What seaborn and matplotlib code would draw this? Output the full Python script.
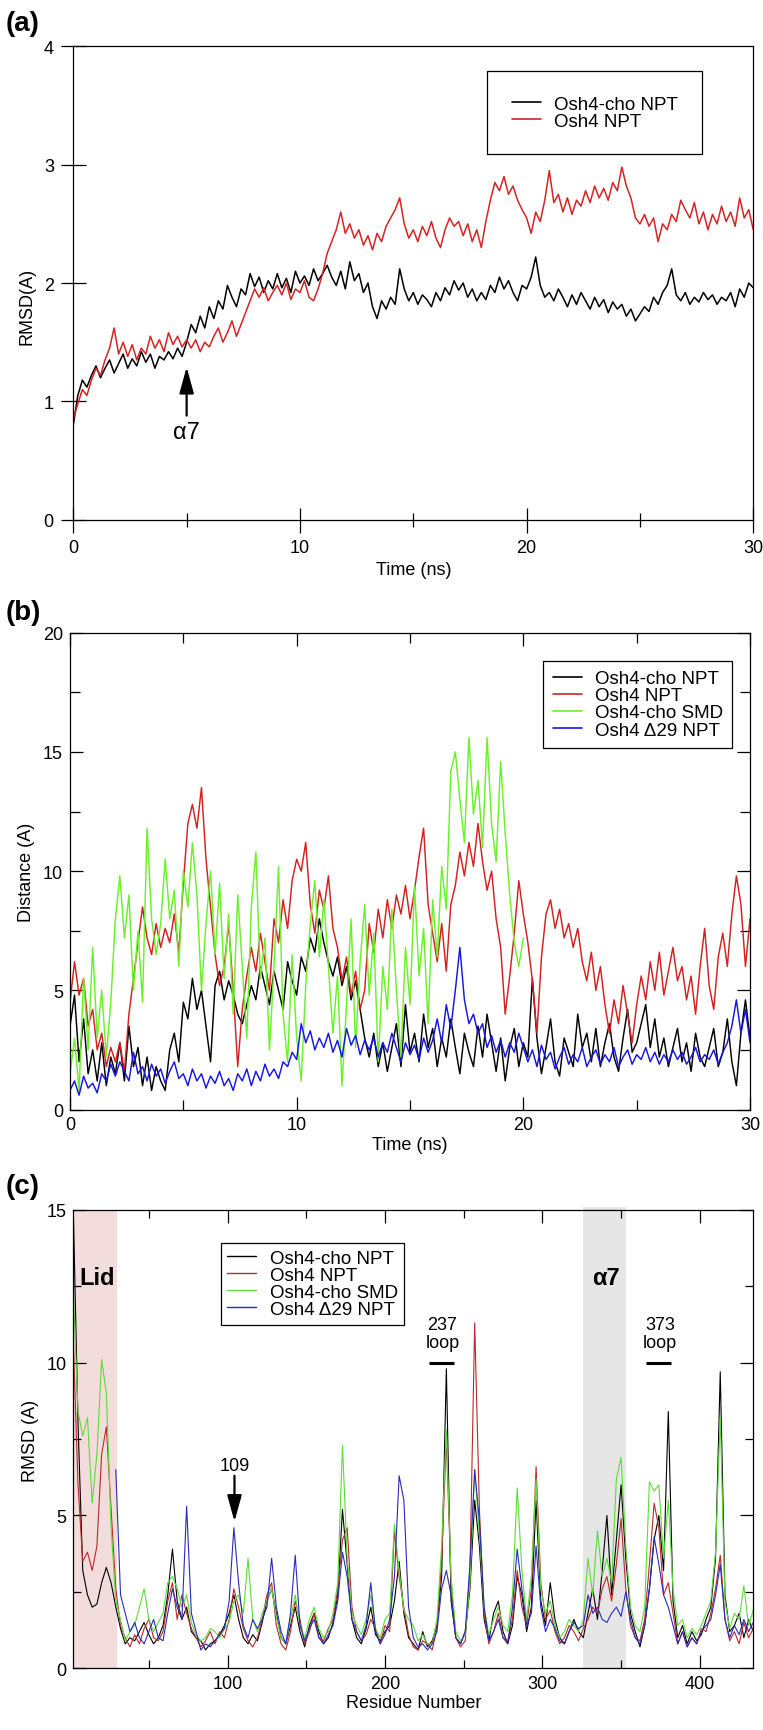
import numpy as np
import pandas as pd
import matplotlib
matplotlib.use("Agg")
import matplotlib.pyplot as plt
import seaborn as sns
from matplotlib.lines import Line2D
from matplotlib.ticker import MultipleLocator, FixedLocator
from matplotlib.patches import ArrowStyle

sns.set_style("ticks")
plt.rcParams['font.family'] = ['Liberation Sans', 'DejaVu Sans']
plt.rcParams.update({
    'axes.edgecolor': 'black', 'xtick.color': 'black', 'ytick.color': 'black',
    'text.color': 'black', 'axes.labelcolor': 'black', 'axes.linewidth': 0.9,
    'xtick.major.width': 0.9, 'ytick.major.width': 0.9,
    'xtick.minor.width': 0.9, 'ytick.minor.width': 0.9,
})

# ---------------- data ----------------
series_names = ["Osh4-cho NPT", "Osh4 NPT", "Osh4-cho SMD", "Osh4 \u039429 NPT"]

# Panel (a): backbone RMSD vs time (ns), sampled every 0.2 ns
time_a = np.round(np.arange(0, 30.0001, 0.2), 1)
rmsd_a_cho_npt = [
    0.80, 1.05, 1.18, 1.12, 1.22, 1.30,
    1.20, 1.28, 1.35, 1.24, 1.32,
    1.40, 1.28, 1.36, 1.30, 1.42,
    1.33, 1.40, 1.28, 1.38, 1.35,
    1.42, 1.36, 1.45, 1.38, 1.50,
    1.65, 1.58, 1.72, 1.62, 1.80,
    1.70, 1.85, 1.78, 1.98, 1.88,
    1.80, 1.95, 1.90, 2.08, 1.97,
    2.05, 1.92, 2.02, 1.95, 2.08,
    1.96, 2.04, 1.92, 2.10, 2.00,
    2.06, 1.98, 2.12, 2.02, 2.08,
    2.15, 2.05, 1.98, 2.10, 1.95,
    2.18, 2.02, 2.08, 1.92, 2.00,
    1.80, 1.70, 1.85, 1.78, 1.88,
    1.82, 2.12, 1.95, 1.85, 1.92,
    1.82, 1.90, 1.86, 1.80, 1.92,
    1.85, 1.96, 1.90, 2.02, 1.94,
    2.00, 1.88, 1.95, 1.85, 1.92,
    1.86, 1.98, 1.92, 2.05, 1.95,
    2.02, 1.92, 1.85, 1.98, 1.95,
    2.05, 2.22, 1.98, 1.88, 1.92,
    1.85, 1.95, 1.88, 1.80, 1.90,
    1.82, 1.92, 1.85, 1.78, 1.88,
    1.80, 1.86, 1.75, 1.84, 1.78,
    1.82, 1.72, 1.78, 1.68, 1.74,
    1.80, 1.76, 1.88, 1.82, 1.92,
    1.98, 2.12, 1.90, 1.85, 1.92,
    1.82, 1.88, 1.84, 1.92, 1.86,
    1.90, 1.82, 1.88, 1.85, 1.92,
    1.80, 1.95, 1.88, 2.00, 1.96,
]
rmsd_a_npt = [
    0.85, 0.98, 1.10, 1.05, 1.18, 1.28,
    1.22, 1.35, 1.45, 1.62, 1.40,
    1.50, 1.38, 1.48, 1.35, 1.45,
    1.40, 1.55, 1.45, 1.52, 1.42,
    1.58, 1.48, 1.55, 1.46, 1.52,
    1.45, 1.52, 1.42, 1.50, 1.46,
    1.55, 1.62, 1.50, 1.58, 1.68,
    1.55, 1.65, 1.75, 1.85, 1.95,
    1.88, 1.96, 1.85, 1.92, 1.98,
    1.90, 2.00, 1.86, 1.95, 1.92,
    2.02, 1.88, 1.85, 1.95, 2.08,
    2.25, 2.35, 2.45, 2.60, 2.42,
    2.50, 2.38, 2.45, 2.32, 2.40,
    2.28, 2.42, 2.35, 2.48, 2.55,
    2.62, 2.72, 2.50, 2.38, 2.45,
    2.35, 2.48, 2.40, 2.52, 2.38,
    2.30, 2.45, 2.55, 2.48, 2.52,
    2.40, 2.50, 2.35, 2.45, 2.30,
    2.52, 2.70, 2.85, 2.78, 2.90,
    2.75, 2.82, 2.70, 2.62, 2.55,
    2.42, 2.60, 2.52, 2.70, 2.95,
    2.68, 2.75, 2.60, 2.72, 2.58,
    2.70, 2.65, 2.78, 2.68, 2.82,
    2.72, 2.80, 2.70, 2.85, 2.78,
    2.98, 2.82, 2.72, 2.55, 2.50,
    2.58, 2.48, 2.55, 2.35, 2.50,
    2.45, 2.58, 2.52, 2.70, 2.62,
    2.55, 2.68, 2.50, 2.60, 2.45,
    2.58, 2.50, 2.65, 2.52, 2.60,
    2.48, 2.72, 2.55, 2.62, 2.45,
]

# Panel (b): distance vs time (ns), sampled every 0.2 ns
time_b = np.round(np.arange(0, 30.0001, 0.2), 1)
dist_b_cho_npt = [
    3.5, 4.8, 2.0, 3.8, 1.5, 2.5,
    1.2, 2.8, 1.0, 2.2, 1.5,
    2.8, 1.2, 3.5, 1.8, 2.6,
    1.0, 2.2, 0.8, 1.8, 1.2,
    0.8, 2.5, 3.2, 2.0, 4.5,
    3.8, 5.5, 4.2, 5.0, 3.5,
    2.0, 5.2, 5.8, 4.6, 5.4,
    4.8, 4.0, 3.6, 4.4, 5.2,
    4.6, 6.0, 5.2, 4.4, 5.8,
    5.0, 4.2, 6.2, 5.4, 4.8,
    6.4, 5.8, 7.2, 6.6, 8.0,
    7.0, 6.2, 5.6, 6.4, 5.2,
    6.0, 4.6, 5.4, 4.2, 3.0,
    2.2, 3.2, 1.8, 2.8, 1.6,
    2.6, 3.6, 1.8, 4.4, 2.4,
    3.2, 2.0, 4.0, 2.6, 3.4,
    1.8, 3.0, 2.2, 3.8, 2.6,
    1.5, 3.2, 2.4, 1.8, 3.5,
    2.2, 4.0, 2.8, 1.6, 3.0,
    1.2, 2.6, 3.4, 1.8, 2.8,
    2.2, 5.5, 3.0, 1.5, 2.6,
    3.8, 2.0, 1.4, 3.0, 2.4,
    1.8, 4.0, 2.6, 3.2, 2.0,
    3.4, 1.8, 2.8, 3.6, 2.2,
    1.6, 3.0, 4.2, 2.4, 2.8,
    3.6, 4.4, 2.6, 3.8, 2.2,
    3.0, 1.8, 2.6, 3.4, 2.0,
    2.8, 1.6, 3.2, 2.2, 1.8,
    2.6, 3.4, 1.8, 2.4, 3.8,
    2.0, 1.0, 3.2, 4.6, 3.0,
]
dist_b_npt = [
    4.5, 6.2, 4.8, 5.5, 3.5, 4.2,
    2.5, 3.2, 1.8, 2.6, 2.0,
    2.8, 1.6, 4.0, 5.5, 7.0,
    8.5, 7.2, 6.5, 7.8, 6.8,
    7.6, 7.0, 8.2, 6.6, 9.5,
    12.0, 12.8, 11.8, 13.5, 10.5,
    8.5, 6.5, 5.2, 6.0, 7.8,
    5.0, 1.8, 4.2, 5.6, 6.8,
    5.8, 7.4, 6.2, 5.0, 8.0,
    7.0, 8.8, 7.6, 9.6, 10.5,
    10.0, 11.2, 8.6, 7.4, 9.2,
    8.4, 9.8, 7.6, 6.8, 5.4,
    6.4, 4.8, 5.8, 4.2, 5.0,
    7.8, 6.6, 8.4, 7.2, 8.8,
    7.6, 9.0, 8.2, 9.4, 8.0,
    9.2, 10.6, 11.8, 8.6, 7.4,
    6.2, 7.8, 5.8, 8.6, 9.4,
    10.8, 9.8, 11.2, 10.2, 12.0,
    10.4, 9.2, 10.0, 8.0, 6.8,
    4.0, 5.6, 7.4, 9.6, 8.2,
    7.0, 5.4, 3.2, 6.4, 8.2,
    8.8, 7.6, 8.4, 7.2, 7.8,
    6.8, 7.6, 6.2, 5.4, 6.6,
    5.0, 6.0, 4.4, 3.2, 4.6,
    3.6, 5.2, 4.0, 2.8, 4.4,
    5.6, 4.6, 6.2, 5.0, 6.6,
    4.8, 5.8, 6.8, 5.4, 6.0,
    4.6, 5.6, 4.0, 6.0, 7.6,
    5.2, 4.2, 6.4, 7.4, 6.0,
    8.2, 9.8, 8.6, 6.0, 8.0,
]
# SMD run covers 0-20 ns only
dist_b_cho_smd = [
    1.5, 3.0, 0.8, 5.5, 2.5, 6.8,
    3.0, 5.0, 2.2, 4.5, 8.0,
    9.8, 7.2, 9.0, 5.0, 7.5,
    4.5, 11.8, 8.0, 6.5, 7.8,
    10.5, 8.0, 9.2, 6.0, 10.0,
    8.5, 11.2, 9.0, 5.0, 7.8,
    10.0, 6.5, 9.5, 5.5, 8.2,
    4.0, 9.0, 6.0, 3.0, 8.5,
    10.8, 5.5, 7.2, 2.5, 6.0,
    10.2, 4.0, 2.0, 6.5, 3.0,
    1.2, 5.2, 7.8, 9.6, 6.4,
    8.8, 6.0, 3.2, 5.6, 1.0,
    4.4, 8.0, 2.6, 6.2, 8.6,
    4.8, 7.4, 2.0, 6.0, 4.2,
    8.4, 5.0, 2.2, 6.8, 4.4,
    9.4, 5.6, 7.6, 3.6, 8.8,
    6.4, 10.2, 8.4, 14.2, 15.0,
    13.0, 11.2, 15.6, 12.4, 13.8,
    11.0, 15.6, 12.0, 10.4, 14.6,
    11.6, 9.0, 7.0, 6.0, 7.2,
]
dist_b_d29_npt = [
    0.8, 1.2, 0.6, 1.4, 0.9, 1.1,
    0.7, 1.5, 1.2, 1.9, 1.4,
    2.0, 1.6, 1.2, 2.4, 1.5,
    1.8, 1.2, 1.9, 1.4, 1.7,
    1.1, 1.6, 2.0, 1.3, 1.5,
    1.0, 1.7, 1.2, 1.5, 0.9,
    1.4, 1.1, 1.6, 1.0, 1.3,
    0.8, 1.5, 1.2, 1.7, 1.0,
    1.6, 1.2, 1.9, 1.4, 1.7,
    1.3, 2.0, 1.8, 2.4, 2.1,
    3.6, 2.8, 3.3, 2.5, 3.0,
    2.6, 3.2, 2.4, 2.9, 2.2,
    3.4, 2.7, 3.1, 2.3, 2.9,
    2.5, 3.0, 2.2, 2.8, 2.4,
    3.2, 2.6, 2.0, 2.8, 2.3,
    2.7, 2.1, 3.0, 2.4, 2.9,
    3.8, 2.8, 4.4, 3.4, 5.0,
    6.8, 4.6, 3.6, 4.0, 3.2,
    3.6, 2.6, 3.1, 2.4, 2.9,
    2.2, 2.8, 2.4, 3.2, 2.6,
    2.0, 2.5, 1.8, 2.7, 2.1,
    2.4, 1.7, 2.2, 2.6, 1.9,
    2.3, 2.0, 2.6, 1.8, 2.2,
    2.5, 1.9, 2.3, 2.0, 2.6,
    1.8, 2.2, 2.5, 1.9, 2.3,
    2.1, 2.6, 2.0, 2.4, 1.9,
    2.3, 2.0, 2.5, 2.1, 2.4,
    1.9, 2.2, 2.6, 2.0, 2.3,
    2.1, 2.5, 1.9, 2.4, 2.8,
    3.5, 4.6, 3.2, 4.2, 2.8,
]

# Panel (c): per-residue RMSD, sampled every 3rd residue (2, 5, ..., 434)
residue_c = np.arange(2, 435, 3)
rmsd_c_cho_npt = [
    15.0, 8.0, 3.2, 2.4, 2.0, 2.1, 2.8, 3.3, 2.8, 2.0,
    1.3, 0.8, 1.0, 0.9, 1.2, 1.5, 1.1, 0.8, 1.0, 1.4,
    2.4, 3.9, 2.2, 1.6, 2.0, 1.2, 1.0, 0.9, 0.6, 0.8,
    0.9, 1.1, 1.4, 1.8, 2.4, 1.6, 1.0, 0.8, 1.1, 0.9,
    1.5, 2.2, 2.6, 1.8, 1.0, 0.8, 1.4, 2.0, 1.2, 0.7,
    1.4, 1.8, 1.2, 0.8, 1.0, 1.5, 2.4, 5.2, 3.4, 1.6,
    1.0, 0.8, 1.3, 2.0, 1.1, 0.9, 1.2, 1.4, 2.2, 3.5,
    1.8, 1.0, 0.8, 0.6, 1.2, 0.7, 0.9, 1.4, 3.0, 9.8,
    2.2, 1.0, 0.8, 1.2, 2.6, 5.5, 4.0, 1.6, 0.9, 1.8,
    2.2, 1.2, 0.8, 1.4, 3.0, 2.4, 1.2, 2.0, 5.5, 2.2,
    1.4, 2.8, 1.6, 1.0, 0.8, 1.2, 1.6, 1.2, 1.0, 1.8,
    2.6, 1.6, 3.2, 5.0, 2.4, 4.2, 6.0, 3.6, 1.8, 1.2,
    0.7, 1.4, 2.6, 4.2, 5.0, 3.2, 8.4, 2.2, 1.0, 1.4,
    0.8, 1.2, 0.9, 1.1, 1.6, 2.0, 3.6, 9.7, 2.4, 1.2,
    1.4, 1.8, 1.0, 1.6, 1.2,
]
rmsd_c_npt = [
    10.7, 6.0, 3.5, 3.8, 3.2, 4.0, 7.0, 7.9, 5.2, 2.6,
    1.4, 1.0, 0.7, 1.1, 0.8, 1.3, 1.6, 1.0, 0.9, 1.2,
    2.2, 2.8, 1.6, 2.4, 1.8, 1.3, 1.0, 0.7, 0.9, 1.2,
    0.8, 1.2, 1.0, 1.6, 2.6, 2.0, 1.3, 0.9, 0.7, 1.0,
    1.6, 2.4, 2.8, 1.4, 0.8, 0.6, 1.2, 2.2, 1.6, 0.8,
    1.2, 1.8, 1.0, 0.9, 1.3, 1.6, 2.6, 4.2, 4.6, 2.0,
    1.2, 0.9, 1.1, 1.6, 1.3, 0.8, 1.4, 1.2, 4.5, 3.0,
    2.0, 1.1, 0.7, 0.6, 0.9, 0.8, 0.6, 1.3, 3.5, 7.5,
    2.8, 1.0, 0.7, 0.9, 3.2, 11.3, 5.2, 1.8, 0.8, 1.2,
    1.8, 1.0, 0.9, 1.6, 3.2, 2.0, 1.4, 2.6, 6.6, 2.8,
    1.6, 1.9, 1.2, 0.8, 1.0, 1.4, 1.2, 0.9, 1.3, 1.6,
    2.0, 1.8, 2.6, 3.0, 2.2, 3.4, 4.9, 2.6, 1.4, 1.0,
    0.9, 1.6, 3.4, 5.4, 4.6, 2.4, 2.8, 1.8, 0.8, 1.2,
    0.7, 1.0, 0.8, 1.3, 1.2, 1.8, 2.6, 3.7, 1.6, 0.9,
    1.2, 0.8, 1.5, 1.0, 1.3,
]
rmsd_c_cho_smd = [
    12.4, 8.4, 7.6, 8.2, 5.4, 7.0, 10.1, 9.0, 4.6, 2.2,
    1.6, 0.9, 1.2, 1.4, 2.0, 2.6, 1.6, 1.2, 1.5, 1.8,
    2.8, 3.0, 2.6, 2.0, 2.4, 1.5, 1.1, 0.9, 1.0, 1.3,
    1.2, 1.0, 1.3, 1.5, 2.2, 2.4, 1.8, 3.6, 1.6, 1.2,
    1.8, 2.2, 2.6, 1.7, 1.0, 0.8, 1.6, 2.4, 1.4, 1.0,
    1.6, 2.0, 1.3, 1.0, 1.2, 1.8, 2.8, 7.3, 3.6, 1.8,
    1.4, 1.1, 1.6, 2.4, 1.3, 1.0, 1.6, 1.8, 4.7, 3.2,
    1.9, 1.6, 1.4, 0.9, 1.1, 0.8, 0.8, 1.6, 4.0, 7.8,
    3.0, 1.2, 0.9, 1.1, 2.8, 6.5, 4.4, 2.0, 1.1, 1.6,
    2.0, 1.4, 1.2, 2.4, 5.9, 3.2, 1.6, 3.0, 6.2, 2.6,
    1.8, 2.2, 1.4, 1.0, 1.2, 1.6, 1.4, 1.2, 1.6, 3.6,
    2.4, 4.5, 3.0, 3.6, 2.8, 6.2, 6.9, 4.0, 2.0, 1.4,
    1.2, 2.0, 6.1, 5.8, 6.0, 3.6, 5.5, 2.6, 1.4, 1.6,
    1.0, 1.3, 1.1, 1.4, 1.8, 2.2, 3.8, 8.2, 2.2, 1.3,
    1.8, 1.6, 2.7, 1.4, 1.9,
]
# Δ29 construct starts at residue 29 (residues 29, 32, ..., 434)
rmsd_c_d29_npt = [
    6.5,
    2.4, 1.8, 1.2, 1.5, 1.0, 0.8, 1.2, 1.6, 1.0, 0.9,
    1.8, 2.6, 2.0, 1.6, 5.3, 1.8, 1.2, 0.6, 0.8, 0.7,
    0.9, 1.1, 1.3, 2.2, 4.6, 2.8, 1.4, 1.0, 1.6, 1.3,
    1.6, 2.0, 3.6, 2.0, 1.2, 0.8, 1.8, 3.7, 1.4, 0.9,
    1.3, 1.6, 1.0, 0.8, 1.1, 1.4, 2.2, 3.8, 3.0, 1.6,
    1.2, 0.9, 1.4, 2.8, 1.2, 0.8, 1.1, 1.6, 3.0, 6.3,
    5.5, 2.0, 1.0, 0.7, 0.8, 0.6, 0.8, 1.2, 2.6, 3.2,
    2.4, 1.0, 0.8, 1.2, 3.4, 6.5, 4.8, 2.0, 0.9, 1.2,
    1.6, 1.0, 0.8, 2.0, 3.9, 2.6, 1.4, 1.8, 4.0, 2.0,
    1.2, 1.6, 1.3, 0.9, 0.8, 1.2, 1.5, 1.3, 1.4, 2.4,
    1.8, 2.0, 1.6, 1.5, 1.8, 2.0, 1.7, 2.5, 1.6, 1.0,
    0.8, 1.4, 2.6, 4.3, 3.4, 2.4, 2.0, 1.4, 0.8, 1.2,
    0.7, 1.0, 0.8, 1.2, 1.4, 1.6, 2.4, 3.4, 1.6, 1.0,
    1.4, 1.1, 1.6, 1.2, 1.5,
]
residue_c_d29 = residue_c[9:]

# ---------------- figure ----------------
W, H = 763, 1731
fig = plt.figure(figsize=(W / 100, H / 100), dpi=100)

def px_axes(left, top, right, bottom):
    return fig.add_axes([left / W, 1 - bottom / H, (right - left) / W, (bottom - top) / H])

ax_a = px_axes(73.3, 47.4, 753.3, 520.7)
ax_b = px_axes(70.0, 633.8, 750.0, 1110.5)
ax_c = px_axes(73.3, 1210.8, 753.3, 1669.3)

FS_TICK = 13
FS_LAB = 13
FS_LEG = 13.5

def draw(ax, x, y, color, lw):
    n = min(len(x), len(y))
    sns.lineplot(x=np.asarray(x[:n], dtype=float), y=np.asarray(y[:n], dtype=float),
                 ax=ax, color=color, linewidth=lw, estimator=None, sort=False, legend=False)

def legend(ax, names, colors, anchor, borderpad, lw=1.2):
    handles = [Line2D([0], [0], color=c, lw=lw) for c in colors]
    lg = ax.legend(handles, names, loc='upper left', bbox_to_anchor=anchor,
                   borderaxespad=0, fontsize=FS_LEG, frameon=True, fancybox=False,
                   framealpha=1, edgecolor='black', borderpad=borderpad,
                   handlelength=1.55, handletextpad=0.7, labelspacing=0.0)
    lg.get_frame().set_linewidth(0.9)
    return lg

# ----- panel (a) -----
col_a = ["#000000", "#d42424"]
draw(ax_a, time_a, rmsd_a_cho_npt, col_a[0], 1.1)
draw(ax_a, time_a, rmsd_a_npt, col_a[1], 1.1)
ax_a.set_xlim(0, 30)
ax_a.set_ylim(0, 4)
ax_a.xaxis.set_major_locator(FixedLocator([0, 10, 20, 30]))
ax_a.xaxis.set_minor_locator(FixedLocator([5, 15, 25]))
ax_a.yaxis.set_major_locator(FixedLocator([0, 1, 2, 3, 4]))
ax_a.tick_params(which='major', direction='inout', length=18, labelsize=FS_TICK, pad=5,
                 top=False, right=False)
ax_a.tick_params(which='minor', direction='inout', length=10, top=False, right=False)
ax_a.set_xlabel("Time (ns)", fontsize=FS_LAB)
ax_a.set_ylabel("RMSD(A)", fontsize=FS_LAB)
ax_a.xaxis.set_label_coords(0.5, -0.087)
ax_a.yaxis.set_label_coords(-0.056, 0.4536)
legend(ax_a, series_names[:2], col_a, (0.609, 0.948), 1.3)
ax_a.annotate('', xy=(5, 1.29), xytext=(5, 0.88),
              arrowprops=dict(arrowstyle=ArrowStyle('-|>', head_length=0.8, head_width=0.22),
                              mutation_scale=20, color='black', lw=1.6, shrinkA=0, shrinkB=0))
ax_a.text(5, 0.74, "\u03b17", ha='center', va='center', fontsize=17)

# ----- panel (b) -----
col_b = ["#000000", "#d42020", "#6cf02c", "#1616e0"]
draw(ax_b, time_b, dist_b_cho_npt, col_b[0], 1.05)
draw(ax_b, time_b, dist_b_npt, col_b[1], 1.05)
draw(ax_b, time_b, dist_b_cho_smd, col_b[2], 1.05)
draw(ax_b, time_b, dist_b_d29_npt, col_b[3], 1.05)
ax_b.set_xlim(0, 30)
ax_b.set_ylim(0, 20)
ax_b.xaxis.set_major_locator(FixedLocator([0, 10, 20, 30]))
ax_b.xaxis.set_minor_locator(FixedLocator([5, 15, 25]))
ax_b.yaxis.set_major_locator(MultipleLocator(5))
ax_b.yaxis.set_minor_locator(MultipleLocator(2.5))
ax_b.tick_params(which='both', direction='in', top=True, right=True, labelsize=FS_TICK, pad=5)
ax_b.tick_params(which='major', length=9.5)
ax_b.tick_params(which='minor', length=7)
ax_b.set_xlabel("Time (ns)", fontsize=FS_LAB)
ax_b.set_ylabel("Distance (A)", fontsize=FS_LAB)
ax_b.xaxis.set_label_coords(0.5, -0.0556)
ax_b.yaxis.set_label_coords(-0.0515, 0.50)
legend(ax_b, series_names, col_b, (0.696, 0.9415), 0.5)

# ----- panel (c) -----
col_c = ["#000000", "#b82a2a", "#5cdc38", "#2a2abc"]
ax_c.axvspan(2, 30, color='#f3dcdc', zorder=0, lw=0)
ax_c.axvspan(326, 353, ymin=0, ymax=1.007, color='#e6e6e6', zorder=0, lw=0, clip_on=False)
draw(ax_c, residue_c, rmsd_c_cho_npt, col_c[0], 0.8)
draw(ax_c, residue_c, rmsd_c_npt, col_c[1], 0.8)
draw(ax_c, residue_c, rmsd_c_cho_smd, col_c[2], 0.8)
draw(ax_c, residue_c_d29, rmsd_c_d29_npt, col_c[3], 0.8)
ax_c.set_xlim(2, 434)
ax_c.set_ylim(0, 15)
ax_c.xaxis.set_major_locator(FixedLocator([100, 200, 300, 400]))
ax_c.xaxis.set_minor_locator(FixedLocator([50, 150, 250, 350]))
ax_c.yaxis.set_major_locator(MultipleLocator(5))
ax_c.yaxis.set_minor_locator(MultipleLocator(2.5))
ax_c.tick_params(which='both', direction='in', top=True, right=True, labelsize=FS_TICK, pad=5)
ax_c.tick_params(which='major', length=9.5)
ax_c.tick_params(which='minor', length=5.5)
ax_c.set_xlabel("Residue Number", fontsize=FS_LAB)
ax_c.set_ylabel("RMSD (A)", fontsize=FS_LAB)
ax_c.xaxis.set_label_coords(0.5, -0.056)
ax_c.yaxis.set_label_coords(-0.0504, 0.498)
legend(ax_c, series_names, col_c, (0.217, 0.9276), 0.35, lw=1.0)

ax_c.text(17.2, 12.8, "Lid", ha='center', va='center', fontsize=17, fontweight='bold')
ax_c.text(340.4, 12.8, "\u03b17", ha='center', va='center', fontsize=17, fontweight='bold')
ax_c.text(236.5, 10.95, "237\nloop", ha='center', va='center', fontsize=13, linespacing=1.1)
ax_c.plot([228, 244], [10.0, 10.0], color='black', lw=2.2, solid_capstyle='butt')
ax_c.text(374.8, 10.95, "373\nloop", ha='center', va='center', fontsize=13, linespacing=1.1)
ax_c.plot([366, 382], [10.0, 10.0], color='black', lw=2.2, solid_capstyle='butt')
ax_c.text(104.4, 6.63, "109", ha='center', va='center', fontsize=13)
ax_c.annotate('', xy=(104.4, 4.8), xytext=(104.4, 6.3),
              arrowprops=dict(arrowstyle=ArrowStyle('-|>', head_length=0.8, head_width=0.22),
                              mutation_scale=20, color='black', lw=1.6, shrinkA=0, shrinkB=0))

# panel letters
for lab, ypx in [("(a)", 24), ("(b)", 613), ("(c)", 1187)]:
    fig.text(6 / W, 1 - ypx / H, lab, ha='left', va='center', fontsize=20, fontweight='bold')

fig.savefig("out.png", dpi=100)
